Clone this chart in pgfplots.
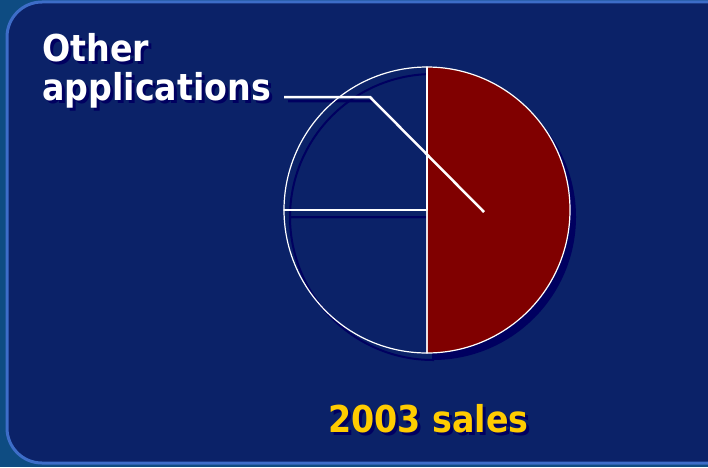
\documentclass[border=0pt]{standalone}
\usepackage{pgfplots}
\pgfplotsset{compat=1.18}
\usepackage{fontspec}
\newfontfamily\tah{DejaVu Sans Condensed}
\definecolor{outerbg}{HTML}{0E4C82}
\definecolor{innerbg}{HTML}{0B2268}
\definecolor{frame}{HTML}{3D6DC8}
\definecolor{shadow}{HTML}{000060}
\definecolor{slicered}{HTML}{800000}
\definecolor{gold}{HTML}{FFCC00}
% shares of 2003 sales (percent)
\def\shareA{50}
\def\shareB{25}
\def\shareC{25}
\begin{document}
\begin{tikzpicture}[x=1pt,y=1pt]
\useasboundingbox (0,0) rectangle (708,467);
\begin{scope}
\clip (0,0) rectangle (708,467);
\fill[outerbg] (0,0) rectangle (708,467);
\filldraw[fill=innerbg, draw=frame, line width=3pt, rounded corners=35pt] (7,4) rectangle (780,465);
\end{scope}
\begin{axis}[at={(0,0)}, anchor=south west, scale only axis, width=708pt, height=467pt,
  xmin=0, xmax=708, ymin=0, ymax=467, y dir=reverse, hide axis, clip=false]
% shadows
\fill[shadow] (axis cs:433,217) -- (axis cs:433,74) arc[start angle=90, delta angle={-3.6*\shareA}, radius=143pt] -- cycle;
\draw[shadow, line width=2pt] (axis cs:433,217) -- (axis cs:433,360) arc[start angle=-90, delta angle={-3.6*\shareB}, radius=143pt] -- cycle;
\draw[shadow, line width=2pt] (axis cs:433,217) -- (axis cs:290,217) arc[start angle=180, delta angle={-3.6*\shareC}, radius=143pt] -- cycle;
\draw[shadow, line width=2.5pt] (axis cs:288,101) -- (axis cs:374,101) -- (axis cs:488,216);
% slices
\filldraw[fill=slicered, draw=white, line width=1.2pt] (axis cs:427,210) -- (axis cs:427,67) arc[start angle=90, delta angle={-3.6*\shareA}, radius=143pt] -- cycle;
\draw[white, line width=1.2pt] (axis cs:427,210) -- (axis cs:427,353) arc[start angle=-90, delta angle={-3.6*\shareB}, radius=143pt] -- cycle;
\draw[white, line width=1.2pt] (axis cs:427,210) -- (axis cs:284,210) arc[start angle=180, delta angle={-3.6*\shareC}, radius=143pt] -- cycle;
\draw[white, line width=1.6pt] (axis cs:427,210) -- (axis cs:427,67);
\draw[white, line width=1.6pt] (axis cs:427,210) -- (axis cs:284,210);
% leader
\draw[white, line width=2.5pt] (axis cs:284,97) -- (axis cs:370,97) -- (axis cs:484,212);
% texts
\node[anchor=base west, inner sep=0pt, text=shadow, font=\tah\bfseries\fontsize{37}{40}\selectfont] at (axis cs:45,64) {Other};
\node[anchor=base west, inner sep=0pt, text=shadow, font=\tah\bfseries\fontsize{37}{40}\selectfont] at (axis cs:45,103) {applications};
\node[anchor=base west, inner sep=0pt, text=white, font=\tah\bfseries\fontsize{37}{40}\selectfont] at (axis cs:42,61) {Other};
\node[anchor=base west, inner sep=0pt, text=white, font=\tah\bfseries\fontsize{37}{40}\selectfont] at (axis cs:42,100) {applications};
\node[anchor=base west, inner sep=0pt, text=shadow, font=\tah\bfseries\fontsize{37}{40}\selectfont] at (axis cs:331,435) {2003 sales};
\node[anchor=base west, inner sep=0pt, text=gold, font=\tah\bfseries\fontsize{37}{40}\selectfont] at (axis cs:328,432) {2003 sales};
\end{axis}
\end{tikzpicture}
\end{document}
